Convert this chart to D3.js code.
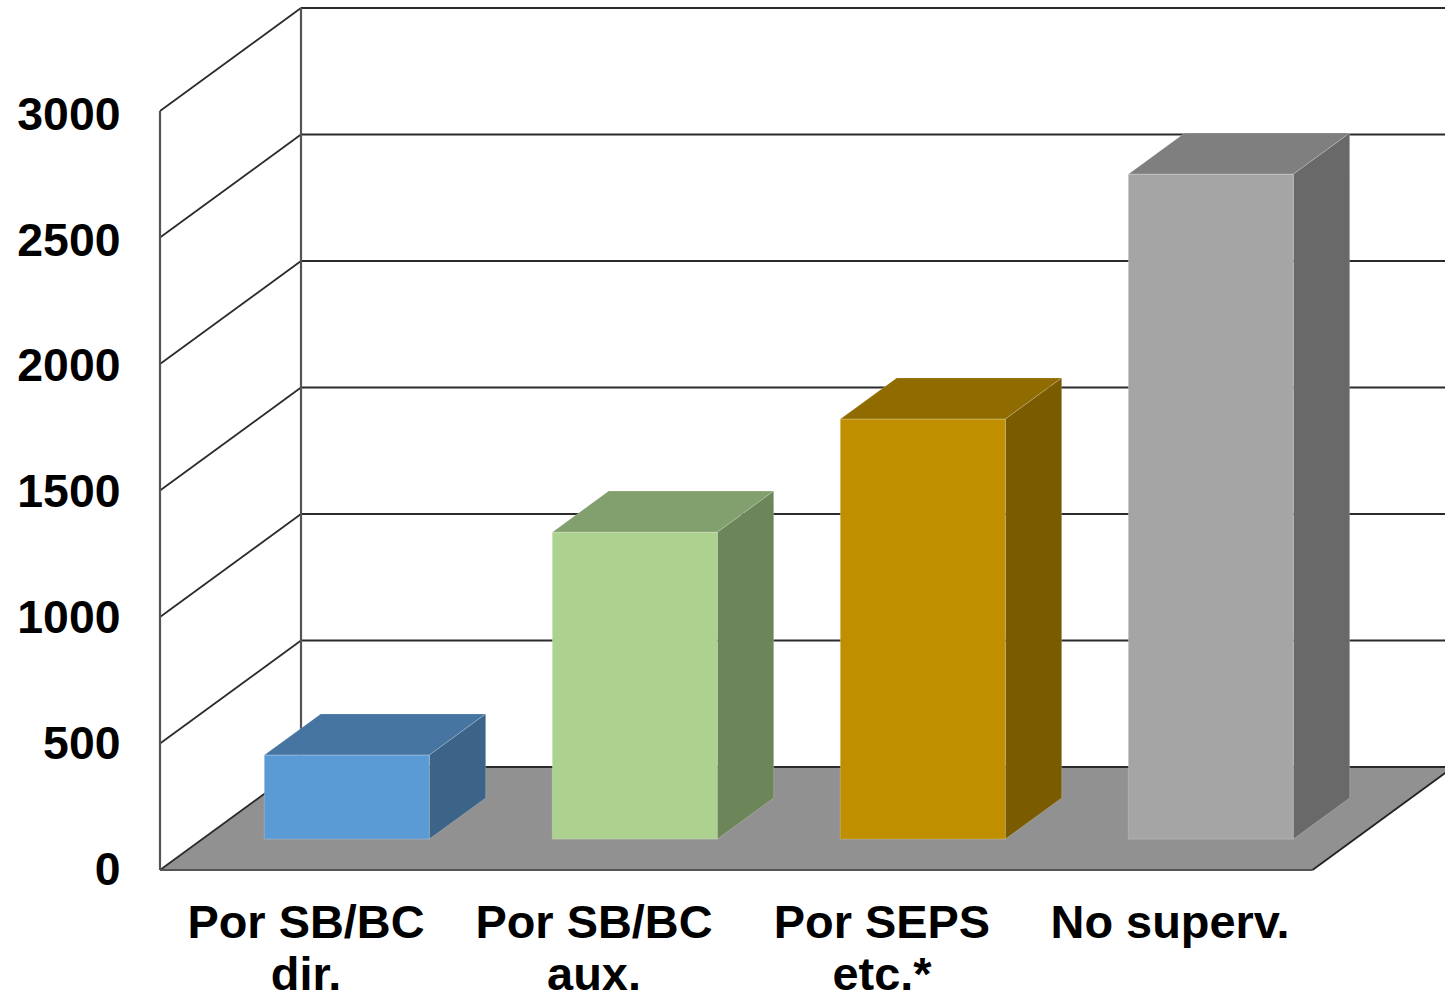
<!DOCTYPE html>
<html>
<head>
<meta charset="utf-8">
<script src="https://cdn.jsdelivr.net/npm/d3@7"></script>
<style>
  html, body { margin: 0; padding: 0; background: #fff; overflow: hidden; }
  svg { display: block; }
  text { font-family: "Liberation Sans", Arial, sans-serif; font-weight: bold; fill: #000; }
</style>
</head>
<body>
<div id="chart"></div>
<script>
// values
const categories = ['Por SB/BC dir.', 'Por SB/BC aux.', 'Por SEPS etc.*', 'No superv.'];
const categoryLines = [['Por SB/BC', 'dir.'], ['Por SB/BC', 'aux.'], ['Por SEPS', 'etc.*'], ['No superv.']];
const values = [332, 1213, 1660, 2628];
const yTicks = [0, 500, 1000, 1500, 2000, 2500, 3000];
const frontColors = ['#5b9bd5', '#add18e', '#bf8f00', '#a5a5a5'];
const topColors = ['#4775a1', '#82a06d', '#8f6b00', '#7f7f7f'];
const sideColors = ['#3b6488', '#6d8659', '#7a5b00', '#696969'];

const width = 1445;
const height = 993;

const svg = d3.select('#chart')
  .append('svg')
  .attr('width', width)
  .attr('height', height);

// Front plane scales
const y = d3.scaleLinear().domain([0, 3000]).range([870, 111]);
// tick labels sit a little tighter than the gridlines in the original
const yLabel = d3.scaleLinear().domain([0, 3000]).range([868, 113]);
const x = d3.scaleBand()
  .domain(categories)
  .range([160.5, 1312.5])
  .paddingInner(0.427)
  .paddingOuter(0.2135);

// Depth goes up and to the right, 0 is the front of the floor, 1 the back wall
const depthX = d3.scaleLinear().domain([0, 1]).range([0, 141]);
const depthY = d3.scaleLinear().domain([0, 1]).range([0, -103]);
const barFront = 0.3;
const barBack = 0.7;

const pt = (px, py, d) => [px + depthX(d), py + depthY(d)];
const poly = pts => pts.map(p => p.join(',')).join(' ');

// Floor
svg.append('polygon')
  .attr('points', poly([pt(160, y(0), 0), pt(1312.5, y(0), 0), pt(1312.5, y(0), 1), pt(160, y(0), 1)]))
  .attr('fill', '#919191');

// Walls and gridlines
const grid = svg.append('g').attr('fill', 'none');

grid.selectAll('.grid-back')
  .data(yTicks)
  .enter()
  .append('line')
  .attr('x1', pt(160, 0, 1)[0])
  .attr('x2', pt(1312.5, 0, 1)[0])
  .attr('y1', d => pt(160, y(d), 1)[1])
  .attr('y2', d => pt(160, y(d), 1)[1])
  .attr('stroke', '#2b2b2b')
  .attr('stroke-width', 1.8);

grid.selectAll('.grid-side')
  .data(yTicks)
  .enter()
  .append('line')
  .attr('x1', 160)
  .attr('y1', d => y(d))
  .attr('x2', pt(160, 0, 1)[0])
  .attr('y2', d => pt(160, y(d), 1)[1])
  .attr('stroke', '#2b2b2b')
  .attr('stroke-width', 1.8);

[160, pt(160, 0, 1)[0]].forEach((wx, i) => {
  const dy = i === 0 ? 0 : depthY(1);
  grid.append('line')
    .attr('x1', wx)
    .attr('x2', wx)
    .attr('y1', y(0) + dy)
    .attr('y2', y(3000) + dy)
    .attr('stroke', '#555')
    .attr('stroke-width', 2.2);
});

// Floor front edge and right edge
grid.append('line')
  .attr('x1', 160).attr('y1', y(0))
  .attr('x2', 1312.5).attr('y2', y(0))
  .attr('stroke', '#555')
  .attr('stroke-width', 2.2);

grid.append('line')
  .attr('x1', 1312.5).attr('y1', y(0))
  .attr('x2', pt(1312.5, 0, 1)[0]).attr('y2', pt(1312.5, y(0), 1)[1])
  .attr('stroke', '#222')
  .attr('stroke-width', 1.8);

// Bars
const bars = svg.selectAll('.bar')
  .data(values)
  .enter()
  .append('g')
  .attr('class', 'bar');

const barBase = y(0) + depthY(barFront);
const barTop = d => barBase - (y(0) - y(d));
const dd = barBack - barFront;

bars.append('polygon')
  .attr('points', (d, i) => {
    const x0 = x(categories[i]) + depthX(barFront);
    const x1 = x0 + x.bandwidth();
    return poly([pt(x0, barTop(d), 0), pt(x1, barTop(d), 0), pt(x1, barTop(d), dd), pt(x0, barTop(d), dd)]);
  })
  .attr('fill', (d, i) => topColors[i])
  .attr('stroke', '#fff')
  .attr('stroke-opacity', 0.2);

bars.append('polygon')
  .attr('points', (d, i) => {
    const x1 = x(categories[i]) + depthX(barFront) + x.bandwidth();
    return poly([pt(x1, barTop(d), 0), pt(x1, barBase, 0), pt(x1, barBase, dd), pt(x1, barTop(d), dd)]);
  })
  .attr('fill', (d, i) => sideColors[i])
  .attr('stroke', '#fff')
  .attr('stroke-opacity', 0.2);

bars.append('rect')
  .attr('x', (d, i) => x(categories[i]) + depthX(barFront))
  .attr('y', d => barTop(d))
  .attr('width', x.bandwidth())
  .attr('height', d => barBase - barTop(d))
  .attr('fill', (d, i) => frontColors[i])
  .attr('stroke', '#fff')
  .attr('stroke-opacity', 0.2);

// Value axis
const yAxis = svg.append('g')
  .attr('transform', 'translate(124.5,0)')
  .call(d3.axisLeft(yLabel).tickValues(yTicks).tickSize(0).tickPadding(4).tickFormat(d3.format('d')));

yAxis.select('.domain').remove();
yAxis.selectAll('text')
  .style('font-size', '46.4px')
  .attr('dy', '0.35em')
  .attr('fill', '#000');

// Category labels
const labels = svg.selectAll('.cat')
  .data(categoryLines)
  .enter()
  .append('text')
  .attr('class', 'cat')
  .attr('text-anchor', 'middle')
  .style('font-size', '46.9px');

labels.selectAll('tspan')
  .data((d, i) => d.map(t => ({ t, i })))
  .enter()
  .append('tspan')
  .attr('x', d => x(categories[d.i]) + x.bandwidth() / 2 + 1.5)
  .attr('y', (d, j) => 938 + j * 52)
  .text(d => d.t);
</script>
</body>
</html>
